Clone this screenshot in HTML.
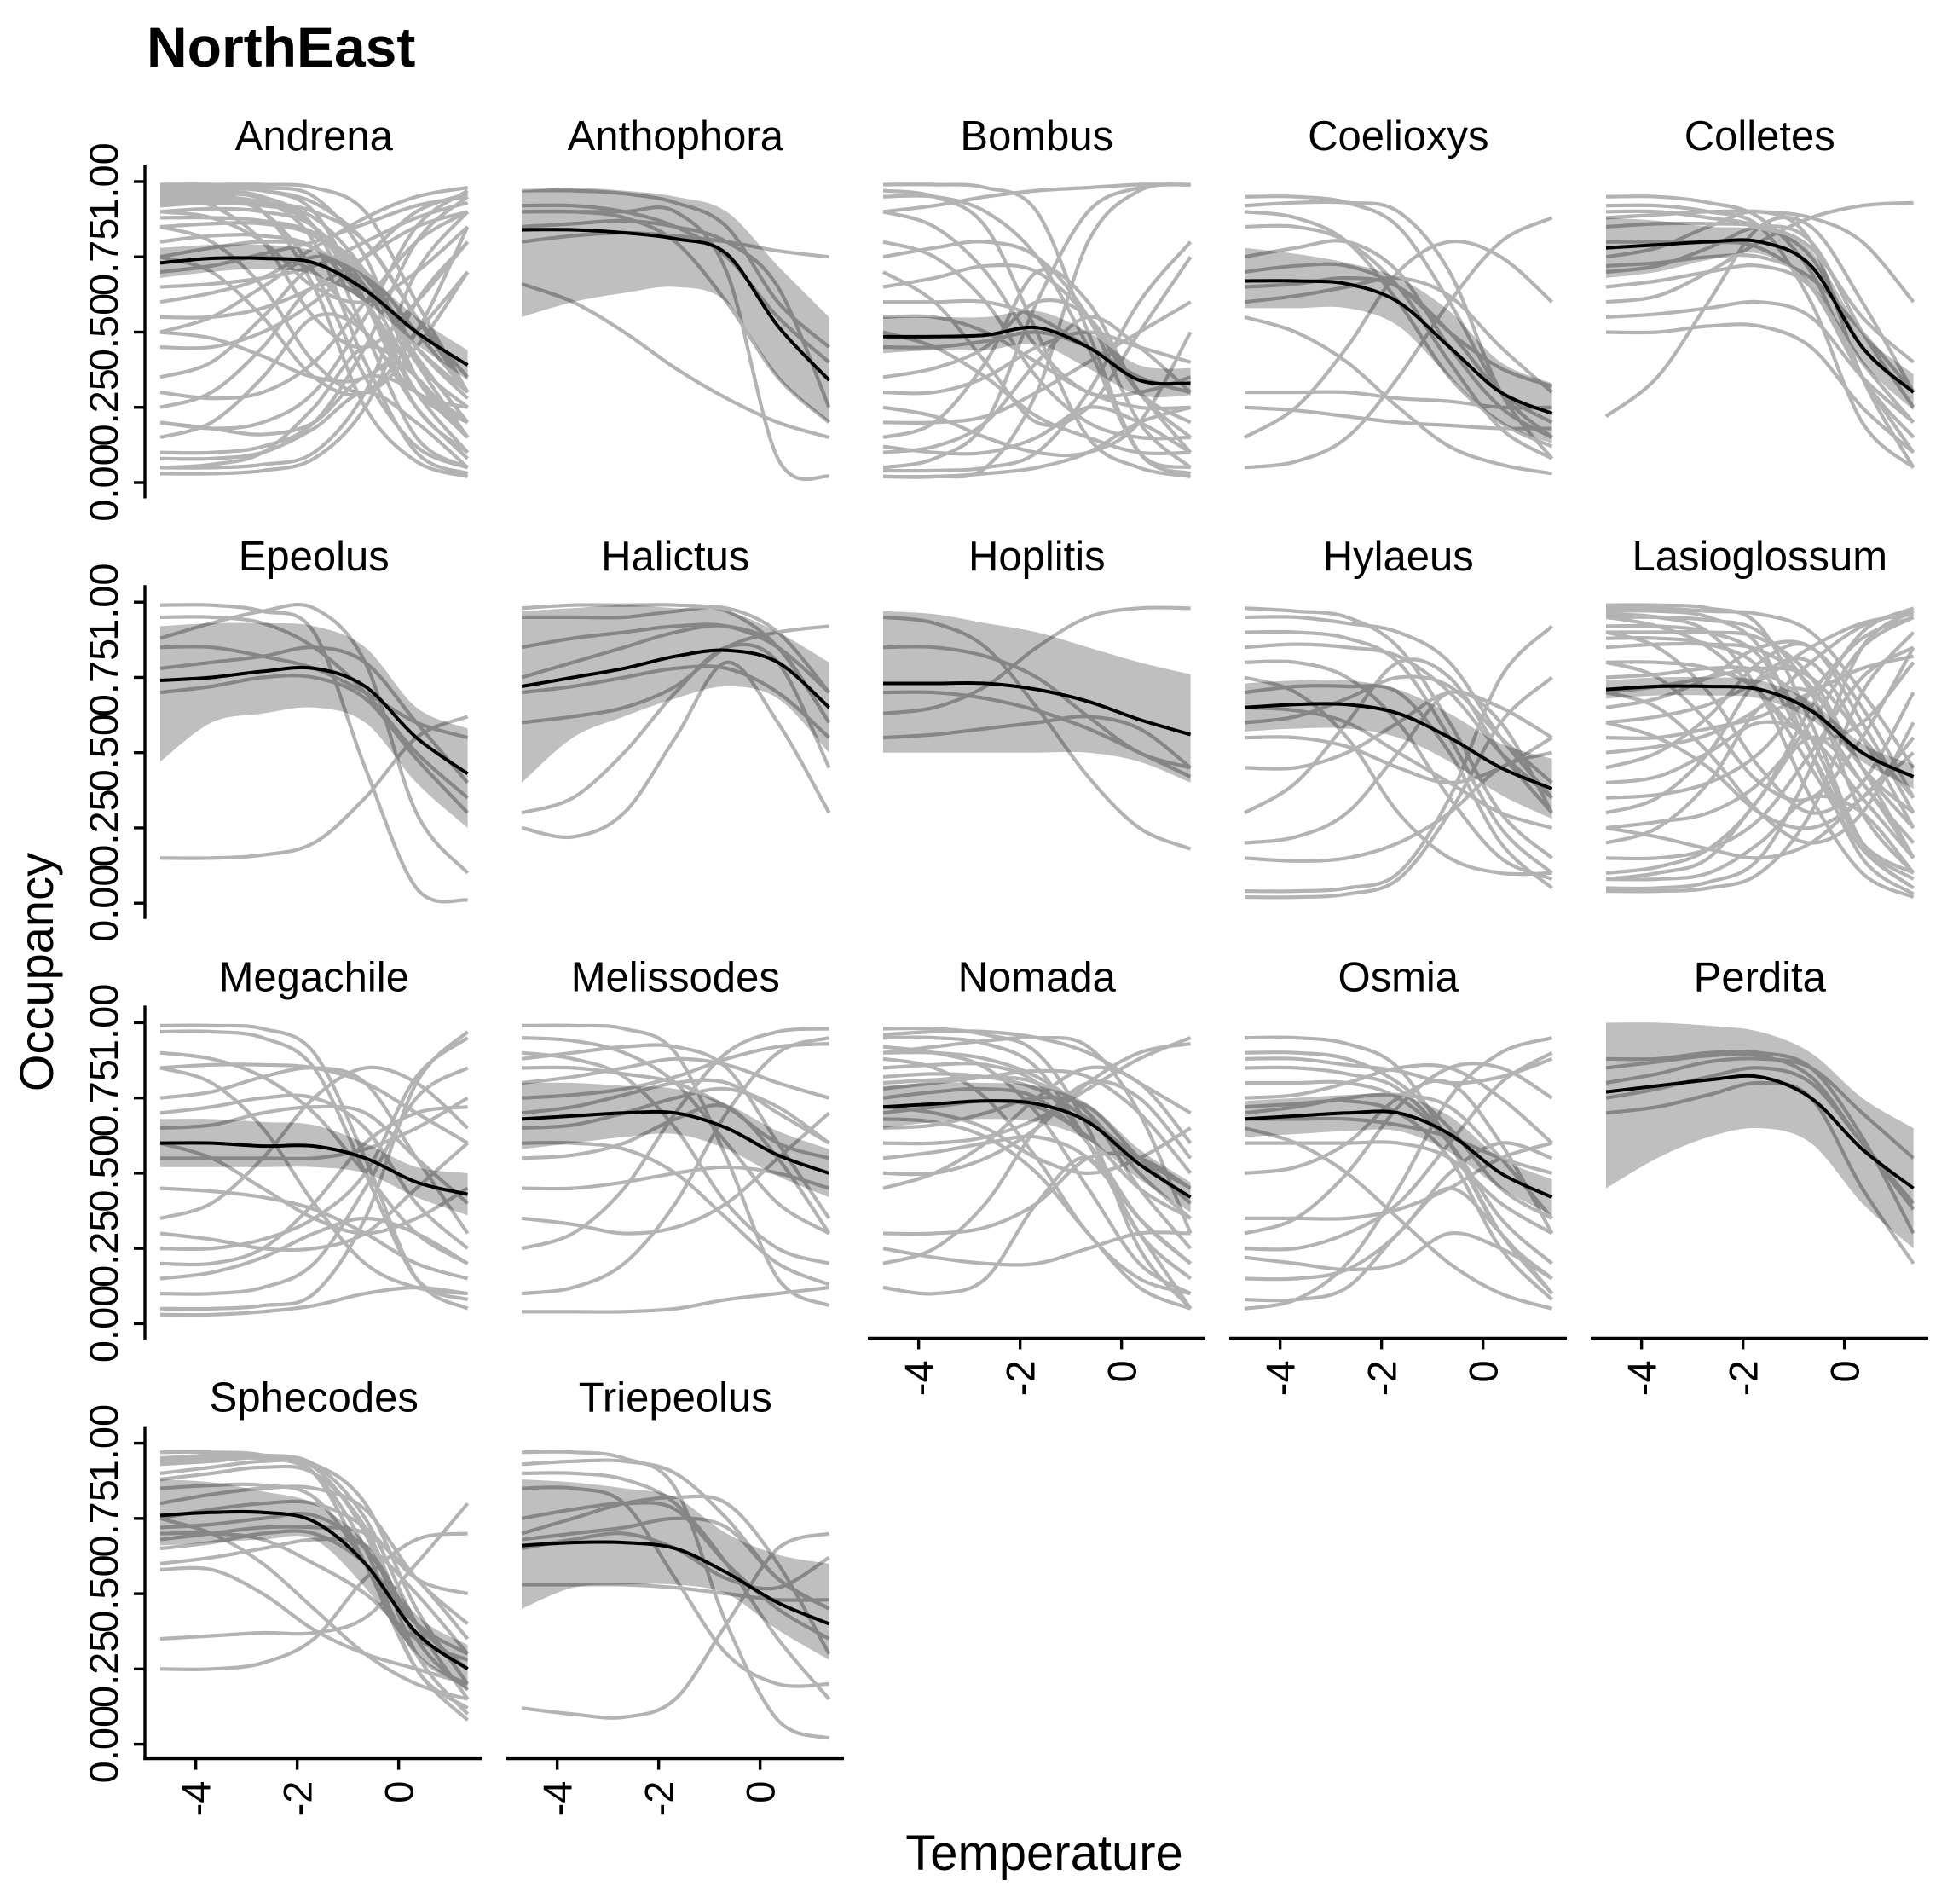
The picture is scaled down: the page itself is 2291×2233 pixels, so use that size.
<!DOCTYPE html>
<html><head><meta charset="utf-8">
<style>
html,body{margin:0;padding:0;background:#fff;}
svg{display:block;}
text{font-family:"Liberation Sans",Arial,sans-serif;}
</style></head>
<body>
<svg id="chart" width="2291" height="2233" viewBox="0 0 2291 2233" xmlns="http://www.w3.org/2000/svg">
<rect width="2291" height="2233" fill="#fff"/>
<text x="172" y="78" font-size="66" font-weight="bold">NorthEast</text>
<text transform="translate(62,1140) rotate(-90)" text-anchor="middle" font-size="56">Occupancy</text>
<text x="1225" y="2193" text-anchor="middle" font-size="58">Temperature</text>
<g id="panels"></g>
</svg>
<script>
const xs = [-4.7,-3.69,-2.68,-1.67,-0.66,0.35,1.36];
const panelNames = ["Andrena","Anthophora","Bombus","Coelioxys","Colletes","Epeolus","Halictus","Hoplitis","Hylaeus","Lasioglossum","Megachile","Melissodes","Nomada","Osmia","Perdita","Sphecodes","Triepeolus"];
const yTickValues = [0,0.25,0.5,0.75,1];
const yTickLabels = ["0.00","0.25","0.50","0.75","1.00"];
const xTickValues = [-4,-2,0];
const xTickLabels = ["-4","-2","0"];
const meanValues = [
[0.73,0.745,0.745,0.73,0.64,0.5,0.39],
[0.84,0.84,0.83,0.81,0.76,0.52,0.34],
[0.485,0.485,0.49,0.515,0.45,0.34,0.33],
[0.67,0.67,0.66,0.6,0.45,0.3,0.23],
[0.78,0.79,0.8,0.8,0.72,0.45,0.3],
[0.74,0.75,0.77,0.78,0.72,0.55,0.43],
[0.72,0.75,0.78,0.82,0.84,0.8,0.65],
[0.73,0.73,0.73,0.71,0.67,0.61,0.56],
[0.65,0.66,0.66,0.63,0.55,0.45,0.38],
[0.71,0.72,0.72,0.71,0.64,0.5,0.42],
[0.6,0.6,0.59,0.59,0.55,0.47,0.43],
[0.68,0.69,0.7,0.7,0.65,0.56,0.5],
[0.72,0.73,0.74,0.73,0.67,0.53,0.42],
[0.68,0.69,0.7,0.7,0.63,0.5,0.42],
[0.77,0.79,0.81,0.82,0.75,0.58,0.45],
[0.76,0.77,0.77,0.74,0.6,0.37,0.25],
[0.66,0.67,0.67,0.65,0.57,0.47,0.4]];
const upperValues = [
[0.78,0.79,0.79,0.77,0.69,0.55,0.44],
[0.97,0.98,0.97,0.95,0.9,0.72,0.55],
[0.55,0.55,0.55,0.57,0.5,0.39,0.38],
[0.78,0.76,0.73,0.68,0.57,0.4,0.33],
[0.88,0.87,0.85,0.84,0.77,0.5,0.36],
[0.92,0.93,0.93,0.92,0.85,0.65,0.58],
[0.97,0.98,0.99,0.98,0.97,0.9,0.8],
[0.97,0.96,0.93,0.9,0.85,0.8,0.76],
[0.73,0.74,0.74,0.71,0.63,0.53,0.48],
[0.74,0.75,0.75,0.74,0.67,0.53,0.46],
[0.68,0.68,0.67,0.66,0.6,0.52,0.5],
[0.8,0.8,0.79,0.78,0.73,0.64,0.58],
[0.79,0.8,0.8,0.79,0.73,0.58,0.47],
[0.74,0.75,0.76,0.76,0.69,0.55,0.48],
[1.0,1.0,0.99,0.97,0.9,0.75,0.65],
[0.88,0.87,0.84,0.8,0.67,0.43,0.33],
[0.88,0.87,0.85,0.82,0.7,0.63,0.6]];
const lowerValues = [
[0.68,0.7,0.71,0.69,0.6,0.46,0.34],
[0.55,0.6,0.63,0.65,0.6,0.35,0.2],
[0.43,0.44,0.44,0.46,0.38,0.29,0.29],
[0.58,0.58,0.58,0.52,0.35,0.2,0.13],
[0.68,0.7,0.74,0.76,0.66,0.4,0.24],
[0.47,0.6,0.63,0.65,0.6,0.4,0.25],
[0.4,0.55,0.62,0.68,0.72,0.68,0.5],
[0.5,0.5,0.5,0.5,0.5,0.47,0.4],
[0.57,0.58,0.58,0.55,0.47,0.36,0.28],
[0.68,0.69,0.69,0.68,0.61,0.47,0.38],
[0.52,0.52,0.52,0.52,0.5,0.42,0.36],
[0.58,0.6,0.62,0.63,0.58,0.49,0.42],
[0.65,0.67,0.68,0.67,0.61,0.48,0.37],
[0.62,0.63,0.64,0.64,0.57,0.45,0.36],
[0.45,0.55,0.62,0.65,0.6,0.4,0.25],
[0.66,0.67,0.68,0.68,0.52,0.3,0.18],
[0.45,0.52,0.53,0.53,0.5,0.38,0.28]];
const speciesCurves = [
[[0.98,0.98,0.97,0.9,0.6,0.25,0.1],[0.97,0.97,0.95,0.85,0.5,0.15,0.05],[0.99,0.99,0.98,0.95,0.75,0.35,0.15],[0.95,0.95,0.93,0.85,0.6,0.3,0.2],[0.93,0.93,0.92,0.88,0.7,0.4,0.25],[0.9,0.91,0.9,0.85,0.65,0.35,0.2],[0.96,0.96,0.94,0.8,0.4,0.1,0.03],[0.98,0.98,0.97,0.93,0.8,0.55,0.35],[0.92,0.93,0.93,0.9,0.8,0.55,0.3],[0.88,0.88,0.87,0.83,0.7,0.45,0.28],[0.85,0.86,0.86,0.82,0.68,0.42,0.2],[0.99,0.99,0.99,0.98,0.9,0.6,0.3],[0.94,0.94,0.9,0.7,0.35,0.12,0.05],[0.97,0.96,0.9,0.65,0.25,0.07,0.02],[0.8,0.82,0.82,0.78,0.6,0.35,0.15],[0.75,0.78,0.8,0.78,0.65,0.45,0.3],[0.05,0.05,0.06,0.1,0.3,0.7,0.9],[0.03,0.03,0.04,0.08,0.25,0.6,0.8],[0.1,0.1,0.12,0.2,0.45,0.8,0.95],[0.2,0.18,0.2,0.3,0.55,0.85,0.97],[0.3,0.28,0.3,0.4,0.6,0.8,0.9],[0.45,0.45,0.5,0.6,0.75,0.9,0.96],[0.55,0.55,0.58,0.65,0.75,0.85,0.9],[0.6,0.63,0.68,0.78,0.88,0.95,0.98],[0.7,0.72,0.76,0.8,0.86,0.92,0.95],[0.65,0.66,0.68,0.72,0.8,0.88,0.93],[0.15,0.2,0.35,0.55,0.5,0.25,0.08],[0.25,0.3,0.45,0.65,0.6,0.3,0.1],[0.35,0.4,0.55,0.72,0.7,0.4,0.15],[0.05,0.06,0.1,0.25,0.45,0.35,0.15],[0.5,0.55,0.65,0.75,0.7,0.5,0.3],[0.2,0.18,0.16,0.2,0.35,0.3,0.15],[0.08,0.08,0.1,0.18,0.3,0.2,0.05],[0.7,0.72,0.75,0.7,0.5,0.3,0.25],[0.85,0.8,0.65,0.4,0.3,0.45,0.7],[0.75,0.7,0.55,0.35,0.3,0.5,0.85],[0.95,0.92,0.8,0.55,0.45,0.6,0.8],[0.9,0.88,0.8,0.65,0.6,0.7,0.85],[0.5,0.48,0.42,0.35,0.35,0.5,0.7]],
[[0.97,0.97,0.96,0.93,0.85,0.6,0.45],[0.9,0.9,0.88,0.8,0.6,0.35,0.2],[0.66,0.6,0.5,0.38,0.28,0.2,0.15],[0.9,0.9,0.9,0.9,0.7,0.08,0.02],[0.8,0.82,0.83,0.82,0.8,0.77,0.75],[0.92,0.92,0.9,0.85,0.75,0.55,0.4],[0.85,0.86,0.87,0.85,0.8,0.65,0.25]],
[[0.99,0.99,0.98,0.9,0.5,0.1,0.03],[0.97,0.95,0.85,0.5,0.15,0.05,0.02],[0.02,0.02,0.05,0.3,0.8,0.97,0.99],[0.05,0.08,0.2,0.6,0.9,0.98,0.99],[0.9,0.85,0.7,0.45,0.3,0.3,0.35],[0.8,0.75,0.6,0.35,0.2,0.15,0.15],[0.3,0.3,0.35,0.45,0.5,0.45,0.4],[0.1,0.12,0.2,0.4,0.55,0.45,0.3],[0.65,0.68,0.72,0.7,0.55,0.3,0.2],[0.55,0.55,0.5,0.4,0.3,0.25,0.25],[0.45,0.45,0.47,0.5,0.45,0.35,0.3],[0.2,0.2,0.22,0.3,0.4,0.5,0.6],[0.04,0.04,0.05,0.1,0.3,0.6,0.8],[0.95,0.95,0.9,0.75,0.45,0.1,0.05],[0.6,0.6,0.6,0.55,0.45,0.35,0.3],[0.12,0.1,0.1,0.15,0.25,0.2,0.1],[0.35,0.38,0.45,0.6,0.55,0.3,0.1],[0.75,0.78,0.8,0.75,0.55,0.2,0.05],[0.9,0.92,0.95,0.97,0.98,0.99,0.99],[0.5,0.45,0.35,0.22,0.15,0.1,0.1],[0.25,0.22,0.15,0.1,0.1,0.2,0.5],[0.7,0.6,0.4,0.2,0.25,0.5,0.75],[0.15,0.2,0.4,0.7,0.6,0.3,0.15],[0.02,0.02,0.03,0.05,0.1,0.2,0.25]],
[[0.95,0.95,0.93,0.85,0.6,0.3,0.15],[0.9,0.88,0.8,0.6,0.35,0.2,0.12],[0.75,0.78,0.8,0.7,0.45,0.25,0.15],[0.7,0.72,0.72,0.65,0.5,0.38,0.32],[0.55,0.5,0.4,0.25,0.12,0.06,0.03],[0.6,0.62,0.65,0.68,0.62,0.45,0.3],[0.3,0.3,0.3,0.28,0.27,0.25,0.25],[0.25,0.24,0.22,0.2,0.19,0.18,0.18],[0.05,0.07,0.15,0.35,0.6,0.8,0.88],[0.85,0.85,0.8,0.65,0.4,0.18,0.08],[0.65,0.66,0.68,0.65,0.5,0.3,0.2],[0.15,0.25,0.45,0.7,0.8,0.75,0.6],[0.92,0.93,0.93,0.9,0.7,0.3,0.08]],
[[0.95,0.95,0.93,0.88,0.7,0.35,0.15],[0.9,0.9,0.88,0.85,0.75,0.45,0.3],[0.85,0.86,0.86,0.85,0.78,0.55,0.4],[0.7,0.72,0.78,0.85,0.8,0.5,0.25],[0.55,0.56,0.58,0.6,0.55,0.35,0.2],[0.5,0.5,0.52,0.52,0.45,0.25,0.1],[0.22,0.35,0.6,0.85,0.85,0.6,0.3],[0.8,0.8,0.8,0.78,0.65,0.35,0.1],[0.75,0.78,0.85,0.9,0.8,0.35,0.05],[0.65,0.67,0.7,0.72,0.65,0.4,0.2],[0.88,0.89,0.9,0.9,0.88,0.8,0.6],[0.6,0.62,0.7,0.8,0.88,0.92,0.93],[0.92,0.92,0.9,0.85,0.6,0.2,0.05],[0.72,0.73,0.75,0.75,0.68,0.5,0.3]],
[[0.99,0.99,0.97,0.9,0.45,0.05,0.01],[0.88,0.93,0.97,0.98,0.8,0.3,0.1],[0.85,0.85,0.82,0.78,0.7,0.6,0.55],[0.15,0.15,0.16,0.2,0.35,0.55,0.62],[0.7,0.72,0.75,0.75,0.68,0.48,0.3],[0.78,0.8,0.82,0.85,0.8,0.6,0.4],[0.95,0.95,0.93,0.85,0.7,0.5,0.35]],
[[0.98,0.99,0.99,0.99,0.97,0.85,0.6],[0.85,0.88,0.9,0.92,0.92,0.85,0.7],[0.25,0.22,0.3,0.55,0.8,0.6,0.3],[0.7,0.72,0.75,0.78,0.78,0.7,0.55],[0.6,0.62,0.65,0.72,0.85,0.9,0.92],[0.75,0.8,0.85,0.9,0.92,0.85,0.6],[0.95,0.95,0.95,0.97,0.98,0.9,0.7],[0.3,0.35,0.5,0.7,0.85,0.8,0.45]],
[[0.95,0.93,0.85,0.65,0.42,0.25,0.18],[0.63,0.65,0.72,0.85,0.95,0.98,0.98],[0.55,0.56,0.58,0.6,0.62,0.58,0.45],[0.85,0.85,0.82,0.75,0.62,0.5,0.45],[0.7,0.7,0.68,0.64,0.58,0.5,0.42]],
[[0.98,0.97,0.95,0.85,0.6,0.3,0.15],[0.9,0.9,0.88,0.8,0.55,0.25,0.1],[0.04,0.04,0.05,0.1,0.35,0.75,0.92],[0.02,0.02,0.03,0.08,0.3,0.6,0.75],[0.45,0.45,0.5,0.6,0.7,0.65,0.55],[0.7,0.72,0.72,0.7,0.5,0.2,0.05],[0.75,0.7,0.55,0.3,0.15,0.1,0.1],[0.65,0.64,0.6,0.5,0.4,0.3,0.25],[0.3,0.4,0.6,0.8,0.75,0.5,0.3],[0.85,0.86,0.85,0.82,0.7,0.5,0.35],[0.6,0.62,0.68,0.75,0.72,0.55,0.4],[0.2,0.22,0.3,0.5,0.7,0.6,0.3],[0.95,0.95,0.93,0.9,0.8,0.55,0.35],[0.55,0.55,0.52,0.45,0.4,0.45,0.55],[0.15,0.14,0.15,0.2,0.3,0.45,0.5],[0.8,0.8,0.75,0.6,0.35,0.15,0.08]],
[[0.99,0.99,0.98,0.92,0.6,0.2,0.05],[0.97,0.97,0.95,0.85,0.5,0.15,0.03],[0.95,0.95,0.94,0.9,0.7,0.3,0.1],[0.92,0.92,0.9,0.82,0.55,0.2,0.08],[0.9,0.9,0.9,0.88,0.75,0.45,0.25],[0.88,0.88,0.86,0.78,0.5,0.2,0.1],[0.85,0.86,0.86,0.84,0.72,0.45,0.3],[0.98,0.98,0.97,0.96,0.9,0.7,0.45],[0.8,0.8,0.78,0.7,0.45,0.18,0.05],[0.75,0.76,0.78,0.77,0.65,0.4,0.2],[0.96,0.95,0.9,0.7,0.35,0.1,0.02],[0.7,0.72,0.75,0.78,0.75,0.55,0.35],[0.05,0.05,0.07,0.15,0.45,0.85,0.97],[0.04,0.04,0.05,0.1,0.3,0.7,0.9],[0.1,0.12,0.18,0.35,0.65,0.9,0.98],[0.15,0.15,0.18,0.28,0.5,0.75,0.85],[0.25,0.27,0.3,0.4,0.6,0.85,0.95],[0.35,0.36,0.4,0.5,0.7,0.88,0.95],[0.5,0.52,0.56,0.65,0.8,0.92,0.97],[0.6,0.62,0.66,0.74,0.85,0.93,0.96],[0.55,0.55,0.58,0.62,0.7,0.78,0.82],[0.2,0.25,0.4,0.65,0.7,0.45,0.15],[0.3,0.35,0.5,0.75,0.8,0.55,0.25],[0.45,0.5,0.62,0.8,0.85,0.6,0.3],[0.08,0.1,0.15,0.35,0.55,0.4,0.15],[0.4,0.42,0.5,0.6,0.55,0.35,0.15],[0.65,0.68,0.75,0.85,0.85,0.65,0.35],[0.9,0.85,0.7,0.45,0.3,0.4,0.7],[0.8,0.75,0.6,0.4,0.35,0.55,0.85],[0.6,0.55,0.45,0.3,0.25,0.35,0.55],[0.7,0.65,0.5,0.3,0.2,0.3,0.6],[0.25,0.22,0.18,0.15,0.2,0.35,0.5],[0.95,0.92,0.85,0.7,0.55,0.6,0.8],[0.08,0.08,0.1,0.2,0.35,0.3,0.1]],
[[0.99,0.99,0.98,0.9,0.55,0.15,0.05],[0.97,0.97,0.95,0.85,0.5,0.15,0.08],[0.05,0.05,0.06,0.1,0.35,0.8,0.97],[0.1,0.1,0.12,0.2,0.45,0.75,0.85],[0.85,0.8,0.65,0.4,0.2,0.12,0.1],[0.7,0.72,0.75,0.75,0.65,0.4,0.25],[0.3,0.28,0.25,0.25,0.3,0.45,0.6],[0.2,0.2,0.25,0.4,0.6,0.7,0.72],[0.15,0.17,0.22,0.3,0.35,0.3,0.2],[0.65,0.66,0.7,0.72,0.7,0.55,0.4],[0.55,0.55,0.55,0.55,0.58,0.65,0.75],[0.25,0.25,0.28,0.35,0.5,0.82,0.95],[0.75,0.77,0.82,0.85,0.8,0.55,0.3],[0.45,0.44,0.42,0.38,0.3,0.2,0.15],[0.85,0.86,0.86,0.85,0.8,0.7,0.6],[0.6,0.55,0.45,0.35,0.3,0.35,0.45],[0.03,0.03,0.04,0.06,0.1,0.12,0.1],[0.35,0.4,0.55,0.75,0.85,0.8,0.65],[0.9,0.88,0.82,0.7,0.5,0.3,0.2]],
[[0.99,0.99,0.98,0.9,0.55,0.15,0.06],[0.95,0.94,0.9,0.8,0.6,0.4,0.3],[0.04,0.04,0.04,0.05,0.08,0.1,0.12],[0.85,0.85,0.83,0.8,0.72,0.6,0.55],[0.25,0.3,0.45,0.7,0.9,0.97,0.98],[0.1,0.12,0.2,0.4,0.7,0.9,0.95],[0.7,0.72,0.76,0.8,0.8,0.7,0.6],[0.45,0.45,0.47,0.5,0.52,0.5,0.45],[0.8,0.82,0.85,0.88,0.86,0.8,0.75],[0.6,0.6,0.58,0.5,0.35,0.2,0.13],[0.9,0.88,0.82,0.65,0.4,0.25,0.2],[0.65,0.66,0.7,0.75,0.78,0.72,0.6],[0.35,0.33,0.3,0.32,0.4,0.55,0.7],[0.75,0.76,0.78,0.82,0.88,0.92,0.93],[0.55,0.56,0.6,0.68,0.72,0.55,0.3],[0.88,0.9,0.92,0.92,0.85,0.6,0.35]],
[[0.98,0.98,0.96,0.9,0.65,0.25,0.05],[0.95,0.95,0.93,0.85,0.6,0.3,0.15],[0.9,0.9,0.88,0.82,0.7,0.5,0.35],[0.85,0.86,0.86,0.8,0.6,0.3,0.15],[0.8,0.81,0.82,0.8,0.7,0.45,0.25],[0.75,0.77,0.78,0.75,0.6,0.35,0.2],[0.7,0.72,0.74,0.72,0.62,0.45,0.35],[0.65,0.66,0.7,0.75,0.72,0.55,0.4],[0.3,0.3,0.32,0.4,0.55,0.55,0.45],[0.25,0.22,0.2,0.2,0.25,0.3,0.3],[0.5,0.5,0.55,0.65,0.8,0.9,0.93],[0.6,0.6,0.62,0.68,0.78,0.88,0.95],[0.92,0.9,0.85,0.7,0.45,0.2,0.1],[0.88,0.85,0.75,0.55,0.3,0.15,0.1],[0.55,0.57,0.6,0.62,0.55,0.35,0.2],[0.78,0.8,0.82,0.84,0.82,0.7,0.5],[0.45,0.5,0.6,0.75,0.85,0.8,0.6],[0.96,0.97,0.97,0.95,0.9,0.8,0.7],[0.68,0.67,0.62,0.5,0.3,0.12,0.05],[0.2,0.25,0.4,0.65,0.8,0.75,0.55],[0.82,0.83,0.82,0.78,0.68,0.55,0.45],[0.72,0.7,0.65,0.55,0.5,0.55,0.65],[0.9,0.92,0.94,0.95,0.92,0.7,0.3],[0.12,0.1,0.15,0.4,0.55,0.3,0.05]],
[[0.95,0.95,0.93,0.85,0.6,0.3,0.15],[0.9,0.9,0.88,0.8,0.65,0.45,0.35],[0.8,0.8,0.8,0.75,0.6,0.35,0.2],[0.05,0.08,0.2,0.45,0.75,0.9,0.95],[0.25,0.25,0.3,0.4,0.6,0.8,0.9],[0.22,0.2,0.18,0.2,0.3,0.25,0.15],[0.35,0.35,0.35,0.38,0.45,0.55,0.6],[0.7,0.72,0.75,0.76,0.72,0.55,0.35],[0.75,0.76,0.8,0.85,0.85,0.75,0.6],[0.6,0.6,0.6,0.6,0.55,0.4,0.3],[0.85,0.85,0.83,0.78,0.6,0.3,0.1],[0.65,0.6,0.5,0.35,0.2,0.1,0.05],[0.5,0.52,0.6,0.75,0.8,0.6,0.3],[0.15,0.15,0.18,0.3,0.5,0.6,0.55],[0.68,0.68,0.68,0.66,0.62,0.55,0.5],[0.88,0.88,0.86,0.84,0.8,0.82,0.88],[0.3,0.35,0.5,0.72,0.85,0.85,0.75],[0.72,0.73,0.74,0.7,0.55,0.25,0.08],[0.08,0.08,0.12,0.3,0.45,0.3,0.1]],
[[0.85,0.87,0.89,0.89,0.82,0.6,0.38],[0.8,0.83,0.87,0.88,0.85,0.7,0.55],[0.7,0.72,0.76,0.8,0.75,0.45,0.2],[0.75,0.78,0.82,0.85,0.8,0.6,0.4],[0.88,0.88,0.9,0.9,0.85,0.62,0.3]],
[[0.95,0.96,0.96,0.93,0.75,0.4,0.15],[0.94,0.95,0.95,0.92,0.7,0.3,0.1],[0.93,0.94,0.95,0.9,0.65,0.25,0.12],[0.97,0.97,0.96,0.9,0.6,0.25,0.08],[0.9,0.92,0.94,0.93,0.8,0.45,0.2],[0.88,0.9,0.92,0.9,0.72,0.35,0.18],[0.85,0.86,0.86,0.82,0.6,0.3,0.2],[0.75,0.78,0.8,0.8,0.72,0.55,0.5],[0.6,0.62,0.65,0.68,0.66,0.5,0.3],[0.7,0.7,0.68,0.6,0.5,0.35,0.28],[0.68,0.7,0.72,0.72,0.7,0.55,0.35],[0.75,0.7,0.6,0.45,0.3,0.2,0.15],[0.58,0.58,0.5,0.38,0.3,0.25,0.2],[0.35,0.36,0.37,0.37,0.42,0.6,0.8],[0.25,0.25,0.27,0.35,0.55,0.68,0.7],[0.72,0.73,0.75,0.76,0.65,0.4,0.25],[0.8,0.83,0.85,0.85,0.78,0.55,0.4],[0.65,0.67,0.7,0.7,0.6,0.4,0.3]],
[[0.97,0.97,0.95,0.85,0.4,0.08,0.02],[0.93,0.94,0.94,0.9,0.75,0.55,0.45],[0.75,0.78,0.8,0.78,0.6,0.45,0.35],[0.68,0.7,0.72,0.75,0.72,0.55,0.45],[0.53,0.53,0.53,0.52,0.5,0.48,0.48],[0.12,0.1,0.09,0.15,0.4,0.65,0.7],[0.65,0.68,0.7,0.65,0.55,0.52,0.62],[0.7,0.75,0.8,0.82,0.8,0.6,0.3],[0.85,0.85,0.8,0.55,0.3,0.2,0.2],[0.9,0.9,0.88,0.8,0.6,0.35,0.15]]];

const NS = "http://www.w3.org/2000/svg";
const panelsG = document.getElementById('panels');
const COL0 = 170, COLP = 424, ROW0 = 193, ROWP = 493.2, PW = 396, PH = 390;
const XMIN = -4.7, XPX = 59.5, EXP = 18;
function panelLeft(c){ return COL0 + c*COLP; }
function panelTop(r){ return ROW0 + r*ROWP; }
function xScale(c, x){ return panelLeft(c) + EXP + (x - XMIN)*XPX; }
function yScale(r, v){ return panelTop(r) + 373 - v*353; }
function splinePts(c, r, vals){ return vals.map((v,i)=>[xScale(c, xs[i]), yScale(r, v)]); }
function splinePath(pts, move){
  let d = (move ? "M" : "L") + pts[0][0].toFixed(1) + "," + pts[0][1].toFixed(1);
  for (let i=0;i<pts.length-1;i++){
    const p0 = pts[Math.max(i-1,0)], p1 = pts[i], p2 = pts[i+1], p3 = pts[Math.min(i+2,pts.length-1)];
    const c1x = p1[0]+(p2[0]-p0[0])/6, c1y = p1[1]+(p2[1]-p0[1])/6;
    const c2x = p2[0]-(p3[0]-p1[0])/6, c2y = p2[1]-(p3[1]-p1[1])/6;
    d += "C"+c1x.toFixed(1)+","+c1y.toFixed(1)+" "+c2x.toFixed(1)+","+c2y.toFixed(1)+" "+p2[0].toFixed(1)+","+p2[1].toFixed(1);
  }
  return d;
}
function mk(tag, attrs, parent){
  const e = document.createElementNS(NS, tag);
  for (const k in attrs) e.setAttribute(k, attrs[k]);
  parent.appendChild(e);
  return e;
}
const xAxisRows = [3,3,2,2,2];

panelNames.forEach((name, p)=>{
  const r = Math.floor(p/5), c = p%5;
  const g = mk('g', {}, panelsG);
  
  
  const cx = (xScale(c, XMIN) + xScale(c, 1.36))/2;
  const st = mk('text', {x: cx, y: panelTop(r) - 17, 'text-anchor':'middle', 'font-size': 49}, g);
  
  
  st.textContent = name;
  speciesCurves[p].forEach((vals, k)=>{
    const path = mk('path', {d: splinePath(splinePts(c, r, vals), true), fill:'none', stroke:'#b3b3b3', 'stroke-width':4.2}, g);
    
    
  });
  const up = splinePts(c, r, upperValues[p]);
  const lo = splinePts(c, r, lowerValues[p]).reverse();
  const rib = mk('path', {d: splinePath(up, true) + splinePath(lo, false) + "Z", fill:'rgba(0,0,0,0.25)', stroke:'none'}, g);
  
  
  const mean = mk('path', {d: splinePath(splinePts(c, r, meanValues[p]), true), fill:'none', stroke:'#000', 'stroke-width':4}, g);
  
  

  if (c === 0){
    const ax = mk('g', {}, g);
    
    
    mk('line', {x1: panelLeft(0), x2: panelLeft(0), y1: panelTop(r), y2: panelTop(r)+PH+1.5, stroke:'#000', 'stroke-width':3.4}, ax);
    yTickValues.forEach((v,i)=>{
      const y = yScale(r, v);
      const tk = mk('line', {x1: panelLeft(0)-13, x2: panelLeft(0), y1: y, y2: y, stroke:'#000', 'stroke-width':3.4}, ax);
      
      
      const tl = mk('text', {transform: 'translate(138,'+y.toFixed(1)+') rotate(-90)', 'text-anchor':'middle', 'font-size':47}, ax);
      
      
      tl.textContent = yTickLabels[i];
    });
  }
  if (xAxisRows[c] === r){
    const ax = mk('g', {}, g);
    
    
    const yb = panelTop(r) + PH;
    mk('line', {x1: panelLeft(c) - (c===0?1.7:0), x2: panelLeft(c)+PW, y1: yb, y2: yb, stroke:'#000', 'stroke-width':3.4}, ax);
    xTickValues.forEach((v,i)=>{
      const x = xScale(c, v);
      const tk = mk('line', {x1: x, x2: x, y1: yb, y2: yb+13, stroke:'#000', 'stroke-width':3.4}, ax);
      
      
      const tl = mk('text', {transform: 'translate('+(x+17).toFixed(1)+','+(yb+26)+') rotate(-90)', 'text-anchor':'end', 'font-size':47}, ax);
      
      
      tl.textContent = xTickLabels[i];
    });
  }
});
</script>
</body></html>
